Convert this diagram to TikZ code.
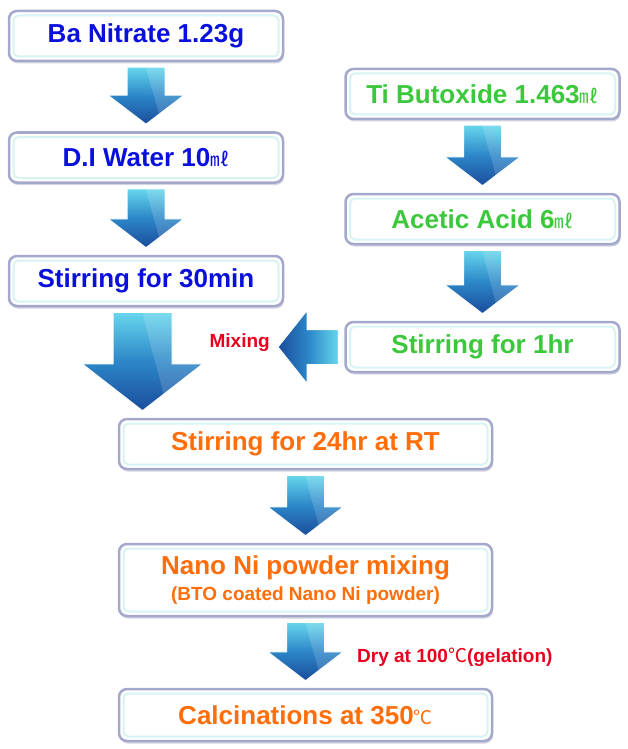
\documentclass[tikz,border=0pt]{standalone}
\usepackage{fontspec}
\setmainfont{Liberation Sans}
\newfontfamily\cjk{Noto Sans CJK KR}
\usetikzlibrary{calc,shadows}
\definecolor{boxborder}{HTML}{A4A9CC}
\definecolor{boxglow}{HTML}{D8F3F4}
\definecolor{boxshadow}{HTML}{9096B4}
\definecolor{arrTop}{HTML}{66D6EC}
\definecolor{arrMid}{HTML}{2C86C8}
\definecolor{arrBot}{HTML}{1A4C9C}
\definecolor{txtblue}{HTML}{0A10DC}
\definecolor{txtgreen}{HTML}{3CC83C}
\definecolor{txtorange}{HTML}{FF6E0A}
\definecolor{txtred}{HTML}{E8001E}
\newcommand\mlsym{{\cjk\mdseries\fontsize{19}{19}\selectfont ㎖}}
\newcommand\degsym{{\cjk\mdseries\fontsize{19}{19}\selectfont ℃}}
\newcommand\DArrow[6]{%
  \path[arrowshape] let \p1=($(#1.south)+(#6,0)$), \p2=(#2.north) in
    ({\x1-#4},{\y1-5pt}) -- ({\x1+#4},{\y1-5pt}) -- ({\x1+#4},{\y2+7pt+#5})
    -- ({\x1+#3},{\y2+7pt+#5}) -- (\x1,{\y2+7pt}) -- ({\x1-#3},{\y2+7pt+#5})
    -- ({\x1-#4},{\y2+7pt+#5}) -- cycle;}
\newcommand\LArrow[5]{%
  \path[larrowshape] let \p1=(#1.west), \p2=(#2.east) in
    ({\x1-6pt},{\y1+#4}) -- ({\x1-6pt},{\y1-#4}) -- ({\x2+8pt+#5},{\y1-#4})
    -- ({\x2+8pt+#5},{\y1-#3}) -- ({\x2+8pt},\y1) -- ({\x2+8pt+#5},{\y1+#3})
    -- ({\x2+8pt+#5},{\y1+#4}) -- cycle;}
\tikzset{
  box/.style={draw=boxborder, line width=2.5pt, rounded corners=8pt, fill=white,
    inner sep=0pt, minimum width=274pt, minimum height=50pt, align=center,
    font=\bfseries\fontsize{26}{30}\selectfont,
    drop shadow={shadow xshift=1pt, shadow yshift=-2.5pt, fill=boxshadow, opacity=.4},
    path picture={\draw[boxglow, line width=2pt, rounded corners=5pt]
      ([shift={(4.5pt,4.5pt)}]path picture bounding box.south west) rectangle
      ([shift={(-4.5pt,-4.5pt)}]path picture bounding box.north east);}},
  widebox/.style={box, minimum width=373pt},
  wave/.style={path picture={\fill[white,opacity=.15] let \p1=(path picture bounding box.north west),
      \p2=(path picture bounding box.south east) in
      ({0.5*\x1+0.5*\x2},\y1) .. controls ({0.42*\x1+0.58*\x2},{0.55*\y1+0.45*\y2})
      and ({0.36*\x1+0.64*\x2},{0.4*\y1+0.6*\y2}) .. ({0.3*\x1+0.7*\x2},\y2)
      -- (\x2,\y2) -- (\x2,\y1) -- cycle;}},
  arrowshape/.style={draw=white, line width=1pt, top color=arrTop, bottom color=arrBot,
    middle color=arrMid, wave},
  larrowshape/.style={draw=white, line width=1pt, left color=arrBot, right color=arrTop,
    middle color=arrMid},
  lbl/.style={inner sep=0pt, font=\bfseries\fontsize{19}{22}\selectfont, text=txtred}
}
\begin{document}
\begin{tikzpicture}[x=1pt,y=-1pt]
\useasboundingbox (0,0) rectangle (628,749);
% left column
\node[box, text=txtblue] (ba) at (146,36) {Ba Nitrate 1.23g};
\node[box, text=txtblue] (di) at (146,157.5) {D.I Water 10\mlsym};
\node[box, text=txtblue] (s30) at (146,281) {Stirring for 30min};
% right column
\node[box, text=txtgreen] (ti) at (482.5,94) {Ti Butoxide 1.463\mlsym};
\node[box, text=txtgreen] (aa) at (482.5,219) {Acetic Acid 6\mlsym};
\node[box, text=txtgreen] (s1) at (482.5,347) {Stirring for 1hr};
% bottom column
\node[widebox, text=txtorange] (s24) at (305.5,444) {Stirring for 24hr at RT};
\node[widebox, text=txtorange, minimum height=72pt] (nano) at (305.5,580)
  {Nano Ni powder mixing\\[-4pt]{\fontsize{19}{24}\selectfont (BTO coated Nano Ni powder)}};
\node[widebox, text=txtorange, minimum height=52pt] (calc) at (305.5,715) {Calcinations at 350\degsym};
% labels
\node[lbl, anchor=east] (mix) at (270,343) {Mixing};
\node[lbl, anchor=west] (dry) at (357,657) {Dry at 100\degsym(gelation)};
% arrows
\DArrow{ba}{di}{38pt}{19pt}{29pt}{0pt}
\DArrow{di}{s30}{38pt}{19pt}{29pt}{0pt}
\DArrow{ti}{aa}{38pt}{19pt}{29pt}{0pt}
\DArrow{aa}{s1}{38pt}{19pt}{29pt}{0pt}
\DArrow{s30}{s24}{60.5pt}{29.5pt}{47pt}{-3.5pt}
\DArrow{s24}{nano}{38pt}{19pt}{29pt}{0pt}
\DArrow{nano}{calc}{38pt}{19pt}{29pt}{0pt}
\LArrow{s1}{mix}{36.5pt}{17.5pt}{29pt}
\end{tikzpicture}
\end{document}
